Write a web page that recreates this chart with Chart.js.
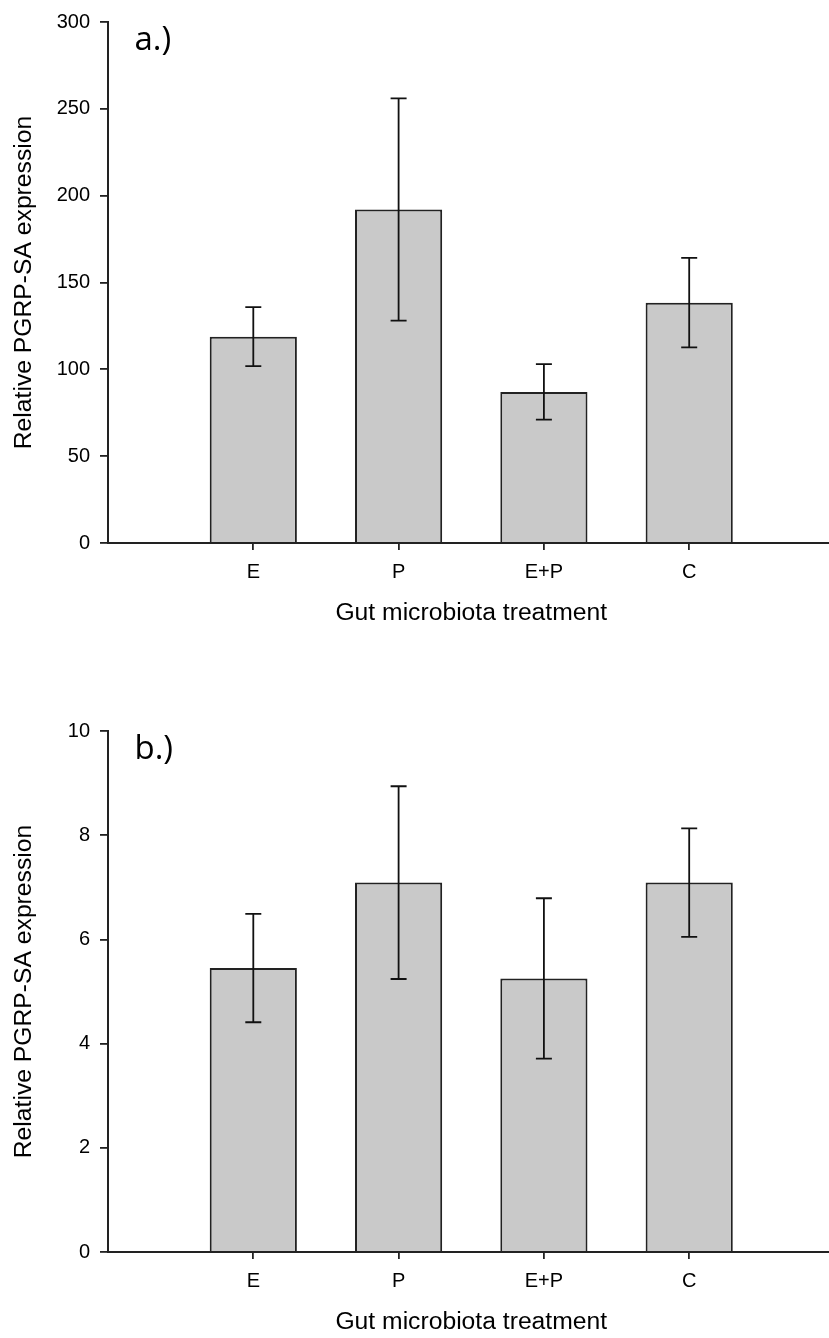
<!DOCTYPE html>
<html>
<head>
<meta charset="utf-8">
<script src="https://cdn.jsdelivr.net/npm/chart.js@4/dist/chart.umd.min.js"></script>
<style>
  html, body { margin: 0; padding: 0; background: #fff; overflow: hidden; }
  .panel { position: absolute; left: 0; }
  #panelA { top: 0; }
  #panelB { top: 709px; }
</style>
</head>
<body>
<canvas id="panelA" class="panel" width="845" height="709"></canvas>
<canvas id="panelB" class="panel" width="845" height="709"></canvas>
<script>
// Treatment groups
const categories = ['E', 'P', 'E+P', 'C'];

// a.) relative PGRP-SA expression: means and error bar half-widths
const meansA = [118.8, 192, 87, 138.4];
const errorsA = [17, 64, 16, 25.8];
const yTicksA = { max: 300, step: 50 };

// b.) relative PGRP-SA expression: means and error bar half-widths
const meansB = [5.45, 7.09, 5.25, 7.09];
const errorsB = [1.04, 1.85, 1.54, 1.04];
const yTicksB = { max: 10, step: 2 };

const panelLabels = ['a.)', 'b.)'];
const xTitle = 'Gut microbiota treatment';
const yTitle = 'Relative PGRP-SA expression';

const INK = '#222';
const FONT = "'Liberation Sans', Arial, sans-serif";

// The category axis has an empty slot before and after the four groups
const paddedLabels = ['', ...categories, ''];
const pad = arr => [null, ...arr, null];

// Vertical error bars with caps, drawn from the means and errors arrays
const errorBarPlugin = {
  id: 'errorBars',
  afterDatasetsDraw(chart, args, opts) {
    const { ctx } = chart;
    const yScale = chart.scales.y;
    const meta = chart.getDatasetMeta(0);
    ctx.save();
    ctx.strokeStyle = '#111';
    ctx.lineWidth = 1.8;
    opts.means.forEach((m, i) => {
      const bar = meta.data[i + 1];
      if (!bar) return;
      const x = bar.x;
      const yTop = yScale.getPixelForValue(m + opts.errors[i]);
      const yBot = yScale.getPixelForValue(m - opts.errors[i]);
      const cap = 8;
      ctx.beginPath();
      ctx.moveTo(x, yTop); ctx.lineTo(x, yBot);
      ctx.moveTo(x - cap, yTop); ctx.lineTo(x + cap, yTop);
      ctx.moveTo(x - cap, yBot); ctx.lineTo(x + cap, yBot);
      ctx.stroke();
    });
    ctx.restore();
  }
};

// Panel letter in the upper-left of the plotting area
const panelLabelPlugin = {
  id: 'panelLabel',
  afterDraw(chart, args, opts) {
    const { ctx, chartArea } = chart;
    ctx.save();
    ctx.fillStyle = '#000';
    ctx.font = "33px 'Open Sans', sans-serif";
    ctx.textBaseline = 'alphabetic';
    ctx.fillText(opts.text, chartArea.left + 26.5, chartArea.top + 27.7);
    ctx.restore();
  }
};

function makePanel(canvasId, means, errors, yTicks, label) {
  return new Chart(document.getElementById(canvasId), {
    type: 'bar',
    data: {
      labels: paddedLabels,
      datasets: [{
        data: pad(means),
        backgroundColor: '#c9c9c9',
        borderColor: INK,
        borderWidth: 2,
        categoryPercentage: 1.0,
        barPercentage: 0.6
      }]
    },
    plugins: [errorBarPlugin, panelLabelPlugin],
    options: {
      responsive: false,
      animation: false,
      events: [],
      layout: { padding: { left: 9.6, top: 18, right: 8.5, bottom: 80.6 } },
      plugins: {
        legend: { display: false },
        tooltip: { enabled: false },
        errorBars: { means, errors },
        panelLabel: { text: label }
      },
      scales: {
        x: {
          type: 'category',
          offset: false,
          grid: {
            offset: false,
            drawOnChartArea: false,
            drawTicks: true,
            tickLength: 7,
            lineWidth: 1.8,
            tickColor: c => (c.index === 0 || c.index === paddedLabels.length - 1) ? 'rgba(0,0,0,0)' : INK
          },
          border: { display: true, color: INK, width: 2 },
          ticks: {
            color: '#000',
            font: { family: FONT, size: 20 },
            padding: 10.5,
            maxRotation: 0,
            autoSkip: false
          },
          title: {
            display: true,
            text: xTitle,
            color: '#000',
            font: { family: FONT, size: 24.7 },
            padding: 0
          },
          afterFit(scale) { scale.height = 85.4; }
        },
        y: {
          min: 0,
          max: yTicks.max,
          grid: {
            drawOnChartArea: false,
            drawTicks: true,
            tickLength: 8,
            lineWidth: 1.8,
            tickColor: INK
          },
          border: { display: true, color: INK, width: 2 },
          ticks: {
            stepSize: yTicks.step,
            color: '#000',
            font: { family: FONT, size: 20 },
            padding: 10
          },
          title: {
            display: true,
            text: yTitle,
            color: '#000',
            font: { family: FONT, size: 24.7 },
            padding: 0
          },
          afterFit(scale) { scale.width = 98.4; }
        }
      }
    }
  });
}

makePanel('panelA', meansA, errorsA, yTicksA, panelLabels[0]);
makePanel('panelB', meansB, errorsB, yTicksB, panelLabels[1]);
</script>
</body>
</html>
